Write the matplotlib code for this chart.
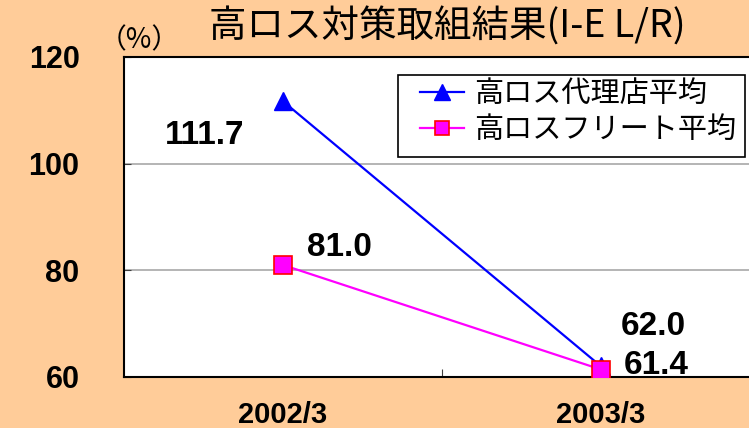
import matplotlib
matplotlib.use("Agg")
import matplotlib.pyplot as plt
from matplotlib.lines import Line2D
from matplotlib.patches import Rectangle

# Data
categories = ["2002/3", "2003/3"]
agency_avg = [111.7, 62.0]
fleet_avg = [81.0, 61.4]
agency_labels = ["111.7", "62.0"]
fleet_labels = ["81.0", "61.4"]
y_ticks = [60, 80, 100, 120]

title_text = "高ロス対策取組結果(I-E L/R)"
unit_text = "（%）"
legend_names = ["高ロス代理店平均", "高ロスフリート平均"]

BG = "#FFCC99"
JP = ["Noto Sans CJK JP", "DejaVu Sans"]
NUM = "Liberation Sans"
W, H = 749, 428

fig = plt.figure(figsize=(W / 100, H / 100), dpi=100, facecolor=BG)
# plot area runs past the right edge, as in the reference
ax = fig.add_axes([124 / W, 1 - 377 / H, 636 / W, 320 / H])
ax.set_facecolor("white")

x = list(range(len(categories)))
ax.plot(x, agency_avg, color="#0000FF", lw=1.6, marker="^", ms=13,
        mfc="#0000FF", mec="#0000FF", zorder=3)
ax.plot(x, fleet_avg, color="#FF00FF", lw=1.6, marker="s", ms=13,
        mfc="#FF00FF", mec="#FF0000", mew=1.2, zorder=4)

ax.set_xlim(-0.5, 1.5)
ax.set_ylim(60, 120)
ax.set_yticks(y_ticks)
ax.set_yticklabels([str(v) for v in y_ticks], fontfamily=NUM,
                   fontweight="bold", fontsize=22)
ax.set_xticks([0.5])
ax.set_xticklabels([""])
ax.tick_params(axis="y", direction="in", length=5, pad=32, color="#404040")
ax.tick_params(axis="x", direction="in", length=6, color="#404040")
for i, c in enumerate(categories):
    ax.text(i, 52.9, c, ha="center", va="center", fontfamily=NUM,
            fontweight="bold", fontsize=21)

ax.grid(axis="y", color="#A8A8A8", lw=1.2)
ax.set_axisbelow(True)
for s in ax.spines.values():
    s.set_color("black")
    s.set_linewidth(1.5)

# data labels
lbl = dict(ha="center", va="center", fontfamily=NUM, fontweight="bold",
           fontsize=24)
ax.text(x[0] - 0.245, agency_avg[0] - 6.4, agency_labels[0], **lbl)
ax.text(x[0] + 0.176, fleet_avg[0] + 3.2, fleet_labels[0], **lbl)
ax.text(x[1] + 0.164, agency_avg[1] + 7.5, agency_labels[1], **lbl)
ax.text(x[1] + 0.173, fleet_avg[1] + 0.8, fleet_labels[1], **lbl)

# legend: white box plus frameless legend inside it
fig.patches.append(Rectangle((398 / W, 1 - 157 / H), 347 / W, 82 / H,
                             transform=fig.transFigure, facecolor="white",
                             edgecolor="black", lw=1.2, zorder=5))
handles = [
    Line2D([], [], color="#0000FF", lw=1.6, marker="^", ms=12,
           mfc="#0000FF", mec="#0000FF"),
    Line2D([], [], color="#FF00FF", lw=1.6, marker="s", ms=10,
           mfc="#FF00FF", mec="#FF0000", mew=1.2),
]
leg = fig.legend(handles, legend_names, loc="upper left",
                 bbox_to_anchor=(420 / W, 1 - 79 / H),
                 prop={"family": JP, "size": 21}, frameon=False,
                 handlelength=1.5, handletextpad=0.35, borderpad=0,
                 borderaxespad=0, labelspacing=0.22)
leg.set_zorder(6)

fig.text(447 / W, 1 - 27 / H, title_text, ha="center", va="center",
         fontfamily=JP, fontsize=27)
fig.text(139 / W, 1 - 40 / H, unit_text, ha="center", va="center",
         fontfamily=JP, fontsize=20)

fig.savefig("out.png", dpi=100, facecolor=BG)
